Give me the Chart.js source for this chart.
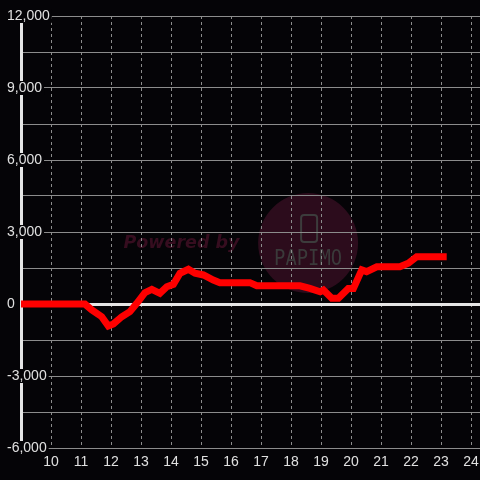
<!DOCTYPE html>
<html>
<head>
<meta charset="utf-8">
<script src="https://cdn.jsdelivr.net/npm/chart.js@4/dist/chart.umd.min.js"></script>
<style>
  html, body { margin: 0; padding: 0; background: #050407; }
  #wrap { width: 480px; height: 480px; position: relative; }
</style>
</head>
<body>
<div id="wrap"><canvas id="c" width="480" height="480"></canvas></div>
<script>
const hours = [8.9, 11.13, 11.36, 11.69, 11.91, 12.08, 12.36, 12.63, 12.86, 13.13, 13.36, 13.63, 13.86, 14.08, 14.3, 14.58, 14.8, 15.08, 15.41, 15.63, 16.63, 16.86, 18.3, 18.63, 18.97, 19.08, 19.36, 19.58, 19.91, 20.08, 20.36, 20.52, 20.86, 21.63, 21.91, 22.19, 23.19];
const values = [0, 0, -250, -530, -917, -833, -530, -320, 30, 470, 610, 445, 720, 820, 1280, 1445, 1280, 1210, 1000, 890, 890, 760, 760, 650, 510, 580, 240, 240, 650, 650, 1420, 1350, 1550, 1550, 1700, 1970, 1970];
const xRange = [9, 24.3];
const yRange = [-6000, 12000];
const yStep = 1500;
const yLabelStep = 3000;
const watermarkText = 'Powered by';
const logoText = 'PAPIMO';

const points = hours.map((h, i) => ({ x: h, y: values[i] }));

const bgPlugin = {
  id: 'bg',
  beforeDraw(chart) {
    const ctx = chart.ctx;
    ctx.save();
    ctx.fillStyle = '#050407';
    ctx.fillRect(0, 0, chart.width, chart.height);
    // watermark
    const xs = chart.scales.x, ys = chart.scales.y;
    const cx = xs.getPixelForValue(18.57), cy = ys.getPixelForValue(2540);
    ctx.fillStyle = '#2c0c1c';
    ctx.beginPath();
    ctx.arc(cx, cy, 50, 0, Math.PI * 2);
    ctx.fill();
    ctx.strokeStyle = '#3c3c3c';
    ctx.lineWidth = 2;
    ctx.beginPath();
    if (ctx.roundRect) ctx.roundRect(cx - 7, cy - 28, 16, 27, 3); else ctx.rect(cx - 7, cy - 28, 16, 27);
    ctx.stroke();
    ctx.fillStyle = '#3a3a3a';
    ctx.font = '22px "DejaVu Sans Mono"';
    ctx.textAlign = 'center';
    ctx.textBaseline = 'middle';
    ctx.fillText(logoText, cx, cy + 16, 68);
    ctx.fillStyle = '#360d1f';
    ctx.font = 'italic bold 18px "DejaVu Sans"';
    ctx.fillText(watermarkText, xs.getPixelForValue(14.35), cy, 116);
    ctx.restore();
  }
};

new Chart(document.getElementById('c'), {
  type: 'line',
  data: {
    datasets: [{
      data: points,
      borderColor: '#ff0000',
      borderWidth: 7,
      pointRadius: 0,
      tension: 0,
      fill: false
    }]
  },
  options: {
    responsive: false,
    animation: false,
    layout: { padding: { left: 21, top: 16, right: 0, bottom: 0 } },
    plugins: { legend: { display: false }, tooltip: { enabled: false } },
    scales: {
      x: {
        type: 'linear',
        min: xRange[0],
        max: xRange[1],
        afterFit(s) { s.height = 32; s.paddingLeft = 0; s.paddingRight = 0; },
        border: { display: false, dash: [3, 3] },
        grid: {
          color: '#8c8c8c',
          lineWidth: ctx => (ctx.tick && ctx.tick.value === xRange[0]) ? 0 : 1,
          drawTicks: false
        },
        ticks: {
          stepSize: 1,
          includeBounds: false,
          padding: 6,
          color: '#e0e0e0',
          font: { family: '"Liberation Sans", Arial, sans-serif', size: 14 },
          maxRotation: 0,
          autoSkip: false,
          callback: v => v === xRange[0] ? '' : String(v)
        }
      },
      y: {
        type: 'linear',
        min: yRange[0],
        max: yRange[1],
        afterFit(s) { s.width = 0; s.paddingTop = 0; s.paddingBottom = 0; },
        border: { display: true, color: '#e6e6e6', width: 3 },
        grid: {
          color: ctx => (ctx.tick && ctx.tick.value === 0) ? '#e6e6e6' : '#8c8c8c',
          lineWidth: ctx => (ctx.tick && ctx.tick.value === 0) ? 3 : 1,
          drawTicks: false
        },
        ticks: {
          stepSize: yStep,
          mirror: true,
          padding: -14,
          color: '#e0e0e0',
          font: { family: '"Liberation Sans", Arial, sans-serif', size: 14, lineHeight: 1 },
          showLabelBackdrop: true,
          backdropColor: ctx => (ctx.tick && ctx.tick.value % yLabelStep === 0) ? '#050407' : 'rgba(0,0,0,0)',
          backdropPadding: { left: 1, right: 2, top: 0, bottom: 0 },
          callback: v => v % yLabelStep === 0 ? v.toLocaleString('en-US') : ''
        }
      }
    }
  },
  plugins: [bgPlugin]
});
</script>
</body>
</html>
